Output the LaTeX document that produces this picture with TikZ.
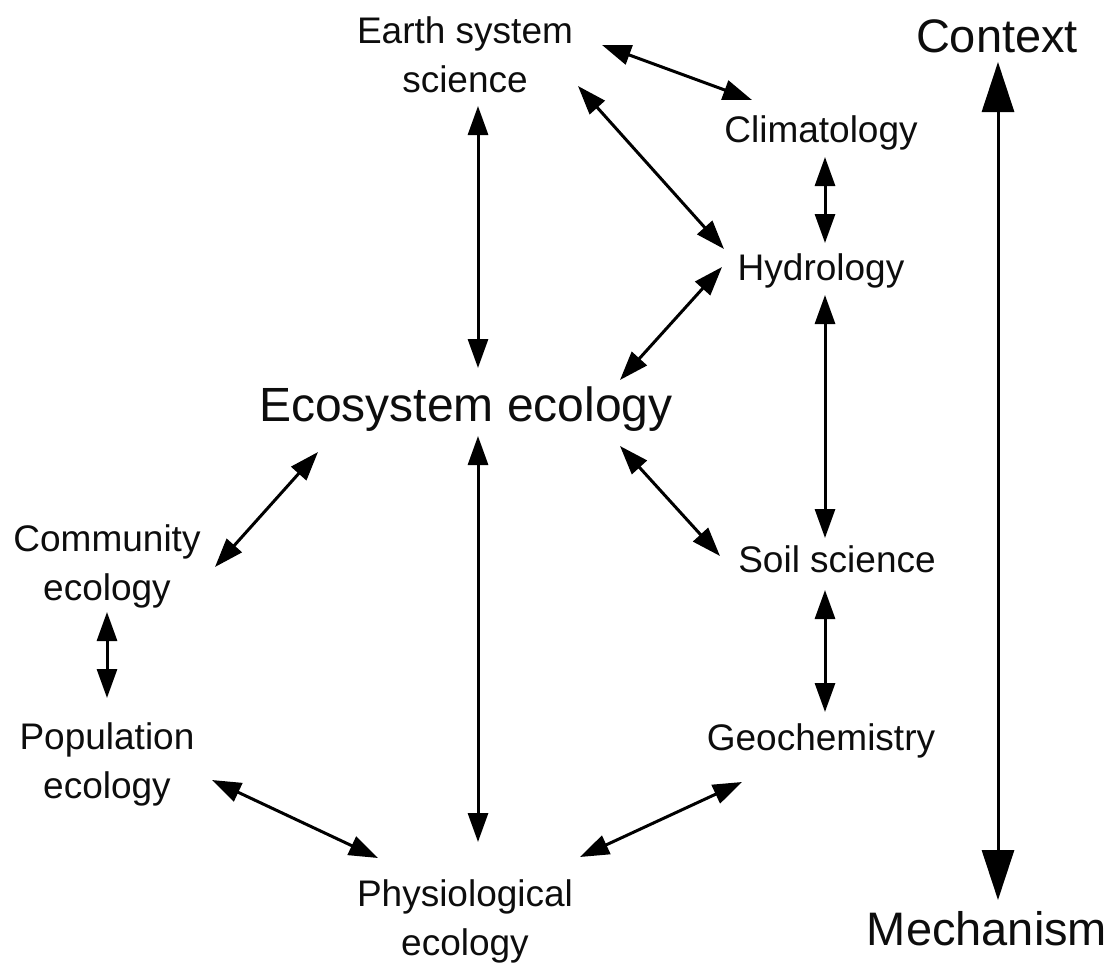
\documentclass[tikz,border=0pt]{standalone}
\usepackage{fontspec}
\setmainfont{Liberation Sans}
\usetikzlibrary{arrows.meta}
\begin{document}
\begin{tikzpicture}[x=1pt,y=-1pt,
  lbl/.style={inner sep=0pt,align=center,font=\fontsize{37}{49}\selectfont,text=black!95},
  big/.style={inner sep=0pt,font=\fontsize{48}{56}\selectfont,text=black!95},
  axis/.style={inner sep=0pt,font=\fontsize{47}{56}\selectfont,text=black!95},
  link/.style={line width=3pt,{Triangle[length=29pt,width=20pt]}-{Triangle[length=29pt,width=20pt]}},
  biglink/.style={line width=3pt,{Triangle[length=50pt,width=32pt]}-{Triangle[length=50pt,width=32pt]}}]
\useasboundingbox (0,0) rectangle (1112,969);
% nodes (anchor=base is the baseline of the last line)
\node[lbl,anchor=base] (earth) at (465,92) {Earth system\\science};
\node[lbl,anchor=base] (clim) at (821,142) {Climatology};
\node[lbl,anchor=base] (hydro) at (821,280) {Hydrology};
\node[big,anchor=base] (eco) at (466,421) {Ecosystem ecology};
\node[lbl,anchor=base] (comm) at (107,600) {Community\\ecology};
\node[lbl,anchor=base] (soil) at (837,572) {Soil science};
\node[lbl,anchor=base] (pop) at (107,798) {Population\\ecology};
\node[lbl,anchor=base] (geo) at (821,750) {Geochemistry};
\node[lbl,anchor=base] (phys) at (465,955) {Physiological\\ecology};
\node[axis,anchor=base] (ctx) at (997,52) {Context};
\node[axis,anchor=base] (mech) at (987,945) {Mechanism};
% connector ends
\coordinate (ec1) at (602,45);  \coordinate (ce1) at (752,100);
\coordinate (eh1) at (578,86);  \coordinate (he1) at (724,249);
\coordinate (ee1) at (478,106); \coordinate (ee2) at (478,368);
\coordinate (ch1) at (825,157); \coordinate (ch2) at (825,243);
\coordinate (hy1) at (722,267); \coordinate (hy2) at (620,380);
\coordinate (hs1) at (825,295); \coordinate (hs2) at (825,538);
\coordinate (es1) at (620,446); \coordinate (es2) at (720,556);
\coordinate (eco1) at (318,452); \coordinate (eco2) at (215,567);
\coordinate (ep1) at (478,436); \coordinate (ep2) at (478,842);
\coordinate (sg1) at (825,590); \coordinate (sg2) at (825,712);
\coordinate (cp1) at (107,612); \coordinate (cp2) at (107,698);
\coordinate (pp1) at (212,780); \coordinate (pp2) at (378,858);
\coordinate (gp1) at (742,782); \coordinate (gp2) at (580,857);
\coordinate (cm1) at (998,62);  \coordinate (cm2) at (998,900);
% connectors
\draw[link] (ec1) -- (ce1);
\draw[link] (eh1) -- (he1);
\draw[link] (ee1) -- (ee2);
\draw[link] (ch1) -- (ch2);
\draw[link] (hy1) -- (hy2);
\draw[link] (hs1) -- (hs2);
\draw[link] (es1) -- (es2);
\draw[link] (eco1) -- (eco2);
\draw[link] (ep1) -- (ep2);
\draw[link] (sg1) -- (sg2);
\draw[link] (cp1) -- (cp2);
\draw[link] (pp1) -- (pp2);
\draw[link] (gp1) -- (gp2);
\draw[biglink] (cm1) -- (cm2);
\end{tikzpicture}
\end{document}
